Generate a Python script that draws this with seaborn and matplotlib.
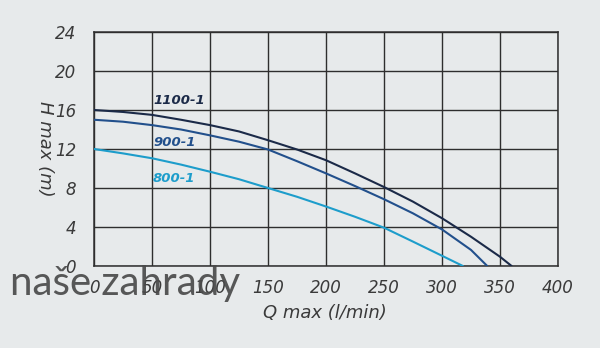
import numpy as np
import pandas as pd
import seaborn as sns
import matplotlib
matplotlib.use("Agg")
import matplotlib.pyplot as plt

# Data
q_1100 = [0, 25, 50, 75, 100, 125, 150, 175, 200, 225, 250, 275, 300, 325, 350, 360]
h_1100 = [16.0, 15.8, 15.5, 15.0, 14.45, 13.8, 12.9, 11.95, 10.85, 9.5, 8.1, 6.6, 4.9, 3.0, 0.95, 0.0]
q_900 = [0, 25, 50, 75, 100, 125, 150, 175, 200, 225, 250, 275, 300, 325, 339]
h_900 = [15.0, 14.8, 14.45, 14.0, 13.4, 12.75, 11.95, 10.75, 9.5, 8.2, 6.85, 5.4, 3.75, 1.65, 0.0]
q_800 = [0, 25, 50, 75, 100, 125, 150, 175, 200, 225, 250, 275, 300, 318]
h_800 = [12.0, 11.55, 11.05, 10.4, 9.67, 8.9, 8.0, 7.1, 6.1, 5.05, 3.93, 2.5, 1.05, 0.0]
series_names = ["1100-1", "900-1", "800-1"]
x_ticks = [0, 50, 100, 150, 200, 250, 300, 350, 400]
y_ticks = [0, 4, 8, 12, 16, 20, 24]

colors = {"1100-1": "#1b2a48", "900-1": "#22508c", "800-1": "#1d9dcb"}

df = pd.concat([
    pd.DataFrame({"Q": q_1100, "H": h_1100, "model": "1100-1"}),
    pd.DataFrame({"Q": q_900, "H": h_900, "model": "900-1"}),
    pd.DataFrame({"Q": q_800, "H": h_800, "model": "800-1"}),
])

sns.set_style("white")
plt.rcParams["font.family"] = ["DejaVu Sans"]

bg = "#e7eaeb"
fig = plt.figure(figsize=(6.0, 3.48), dpi=100)
fig.patch.set_facecolor(bg)
ax = fig.add_axes([94/600, 1-266/348, (558-94)/600, (266-32)/348])
ax.set_facecolor(bg)

for name in series_names:
    sub = df[df["model"] == name]
    sns.lineplot(data=sub, x="Q", y="H", ax=ax, color=colors[name], lw=1.5,
                 legend=False, zorder=3)

ax.set_xlim(0, 400)
ax.set_ylim(0, 24)
ax.set_xticks(x_ticks)
ax.set_yticks(y_ticks)
ax.grid(True, color="#2e2e2e", lw=1.0, zorder=1)
ax.set_axisbelow(True)
for s in ax.spines.values():
    s.set_color("#2e2e2e")
    s.set_linewidth(1.1)
ax.tick_params(axis="x", length=0, pad=9.5, labelsize=12, labelcolor="#3a3a3a")
ax.tick_params(axis="y", length=0, pad=13, labelsize=12, labelcolor="#3a3a3a")
for lab in ax.get_xticklabels() + ax.get_yticklabels():
    lab.set_fontstyle("italic")
ax.set_xlabel("Q max (l/min)", fontsize=13, fontstyle="italic", color="#3a3a3a")
ax.xaxis.set_label_coords((325-94)/464, -(313-266)/234)
ax.xaxis.label.set_va("center")
ax.set_ylabel("H max (m)", fontsize=13, fontstyle="italic", color="#3a3a3a", rotation=270)
ax.yaxis.set_label_coords((45-94)/464, 0.5)
ax.yaxis.label.set_va("center")

label_pos = {"1100-1": (51, 17.0), "900-1": (51, 12.7), "800-1": (51, 9.0)}
for name in series_names:
    x, y = label_pos[name]
    ax.text(x, y, name, color=colors[name], fontsize=9.5, fontstyle="italic",
            fontweight="bold", va="center", ha="left", zorder=4)

fig.text(10/600, 1-295/348, "naše zahrady", fontsize=29, color="#4a4a4a", alpha=0.92,
         family=["Lato", "DejaVu Sans"], ha="left", va="baseline", zorder=10)

fig.savefig("out.png", dpi=100, facecolor=fig.get_facecolor())
